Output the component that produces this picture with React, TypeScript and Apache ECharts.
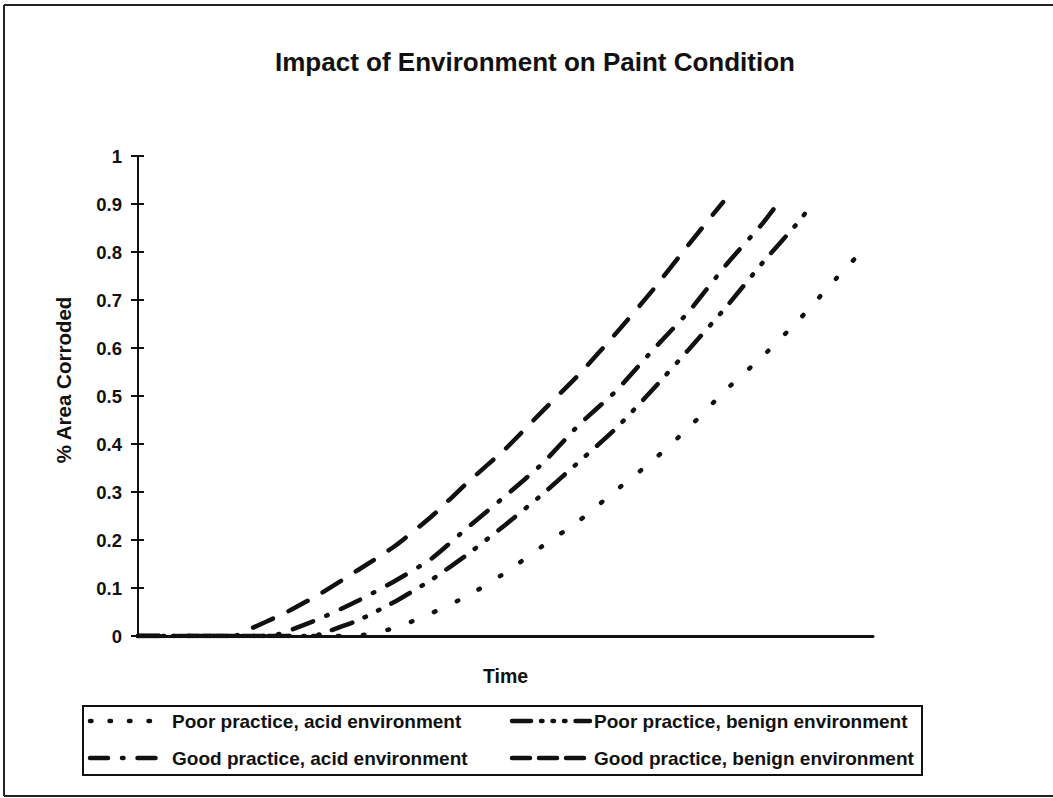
import React, { useEffect, useRef } from "react";
import * as echarts from "echarts";

const TITLE = "Impact of Environment on Paint Condition";
const X_NAME = "Time";
const Y_NAME = "% Area Corroded";
const SERIES_NAMES = [
  "Poor practice, acid environment",
  "Poor practice, benign environment",
  "Good practice, acid environment",
  "Good practice, benign environment",
];

// time (arbitrary units 0..100) and fraction corroded
const poorAcidT = [0, 25, 30, 35, 40, 45, 50, 55, 60, 65, 70, 75, 80, 85, 90, 95, 99];
const poorAcidY = [0, 0, 0.001, 0.017, 0.048, 0.085, 0.132, 0.187, 0.24, 0.303, 0.365, 0.435, 0.513, 0.583, 0.66, 0.745, 0.81];

const poorBenignT = [0, 24, 25, 30, 35, 40, 45, 50, 55, 60, 65, 70, 75, 80, 85, 90, 91.4];
const poorBenignY = [0, 0, 0.005, 0.033, 0.072, 0.118, 0.172, 0.232, 0.295, 0.363, 0.432, 0.513, 0.598, 0.685, 0.778, 0.865, 0.894];

const goodAcidT = [0, 18, 20, 25, 30, 35, 40, 45, 50, 55, 60, 65, 70, 75, 80, 85, 87];
const goodAcidY = [0, 0, 0.008, 0.038, 0.074, 0.115, 0.162, 0.228, 0.292, 0.359, 0.44, 0.51, 0.595, 0.677, 0.773, 0.86, 0.9];

const goodBenignT = [0, 13, 15, 20, 25, 30, 35, 40, 45, 50, 55, 60, 65, 70, 75, 79.6];
const goodBenignY = [0, 0, 0.013, 0.048, 0.09, 0.138, 0.188, 0.25, 0.322, 0.39, 0.468, 0.545, 0.63, 0.72, 0.817, 0.904];

const Y_MIN = 0;
const Y_MAX = 1;
const Y_INTERVAL = 0.1;

const pairs = (t: number[], y: number[]) => t.map((v, i) => [v, y[i]]);

const DASHES = [
  [1.5, 23.5],
  [21.5, 13.5, 1.5, 13.5, 1.5, 13.5],
  [21.5, 14.5, 1.5, 14.5],
  [21.5, 17.5],
];
const LEGEND_DASHES = [
  [1.5, 18],
  [19, 10, 1.5, 10, 1.5, 10, 1.5, 10],
  [18, 14, 1.5, 14],
  [18, 9],
];

const FONT = "'Liberation Sans', Arial, Helvetica, sans-serif";
const INK = "#111";

export default function App() {
  const ref = useRef<HTMLDivElement>(null);
  useEffect(() => {
    if (!ref.current) return;
    const chart = echarts.init(ref.current, null, { renderer: "svg" });
    const datas = [
      pairs(poorAcidT, poorAcidY),
      pairs(poorBenignT, poorBenignY),
      pairs(goodAcidT, goodAcidY),
      pairs(goodBenignT, goodBenignY),
    ];

    // legend (drawn as graphic so that the dash samples match)
    const legendCols = [88, 510];
    const legendRows = [721, 758];
    const legendItems: any[] = [
      {
        type: "rect",
        shape: { x: 83, y: 706, width: 839, height: 69 },
        style: { fill: "none", stroke: INK, lineWidth: 2 },
      },
    ];
    SERIES_NAMES.forEach((name, i) => {
      const x = legendCols[i % 2];
      const y = legendRows[Math.floor(i / 2)];
      legendItems.push({
        type: "line",
        shape: { x1: x + 2, y1: y, x2: x + 80, y2: y },
        style: { stroke: INK, lineWidth: 4.5, lineDash: LEGEND_DASHES[i], lineCap: "round" },
      });
      legendItems.push({
        type: "text",
        x: x + 84,
        y,
        style: {
          text: name,
          align: "left",
          verticalAlign: "middle",
          font: `bold 19px ${FONT}`,
          fill: INK,
        },
      });
    });

    chart.setOption({
      animation: false,
      backgroundColor: "#ffffff",
      grid: { left: 138, right: 180, top: 156, bottom: 162 },
      legend: { show: false, data: SERIES_NAMES },
      xAxis: {
        type: "value",
        min: 0,
        max: 100,
        name: X_NAME,
        nameLocation: "middle",
        nameGap: 30,
        nameTextStyle: { fontFamily: FONT, fontWeight: "bold", fontSize: 19.5, color: INK },
        axisLine: { show: true, lineStyle: { color: INK, width: 3 } },
        axisTick: { show: false },
        axisLabel: { show: false },
        splitLine: { show: false },
      },
      yAxis: [
        {
          type: "value",
          min: Y_MIN,
          max: Y_MAX,
          interval: Y_INTERVAL,
          axisLine: { show: true, onZero: false, lineStyle: { color: INK, width: 2 } },
          axisTick: { show: true, length: 7, lineStyle: { color: INK, width: 2 } },
          axisLabel: {
            margin: 16,
            fontFamily: FONT,
            fontWeight: "bold",
            fontSize: 18.5,
            color: INK,
          },
          splitLine: { show: false },
        },
        {
          type: "value",
          position: "left",
          min: Y_MIN,
          max: Y_MAX,
          interval: Y_INTERVAL,
          axisLine: { show: false },
          axisTick: { show: true, inside: true, length: 6, lineStyle: { color: INK, width: 2 } },
          axisLabel: { show: false },
          splitLine: { show: false },
        },
      ],
      series: SERIES_NAMES.map((name, i) => ({
        name,
        type: "line",
        data: datas[i],
        showSymbol: false,
        symbol: "none",
        smooth: 0.2,
        lineStyle: {
          color: INK,
          width: 4.5,
          type: DASHES[i],
          cap: "round",
        },
        itemStyle: { color: INK },
      })),
      graphic: [
        {
          type: "text",
          x: 535,
          y: 62,
          style: {
            text: TITLE,
            align: "center",
            verticalAlign: "middle",
            font: `bold 26px ${FONT}`,
            fill: INK,
          },
        },
        {
          type: "text",
          x: 63,
          y: 380,
          rotation: Math.PI / 2,
          style: {
            text: Y_NAME,
            align: "center",
            verticalAlign: "middle",
            font: `bold 20.5px ${FONT}`,
            fill: INK,
          },
        },
        { type: "line", shape: { x1: 4, y1: 5, x2: 1053, y2: 5 }, style: { stroke: "#222", lineWidth: 2 } },
        { type: "line", shape: { x1: 4, y1: 5, x2: 4, y2: 796 }, style: { stroke: "#222", lineWidth: 2 } },
        { type: "line", shape: { x1: 4, y1: 796, x2: 1053, y2: 796 }, style: { stroke: "#222", lineWidth: 2 } },
        ...legendItems,
      ],
    });
    return () => chart.dispose();
  }, []);
  return (
    <div
      ref={ref}
      style={{ position: "absolute", left: 0, top: 0, width: 1053, height: 798, background: "#fff" }}
    />
  );
}
